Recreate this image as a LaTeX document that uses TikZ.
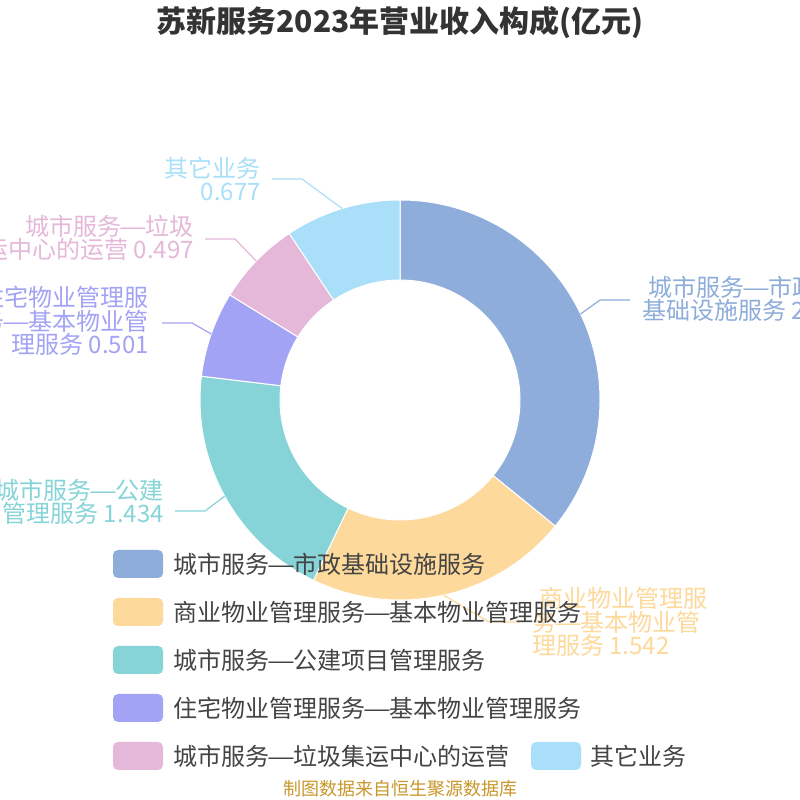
\documentclass[tikz,border=0pt]{standalone}
\usepackage{fontspec}
\setmainfont{Noto Sans CJK SC}
\definecolor{cBlue}{RGB}{142,173,218}
\definecolor{cYellow}{RGB}{253,217,155}
\definecolor{cTeal}{RGB}{134,212,216}
\definecolor{cPurple}{RGB}{163,163,245}
\definecolor{cPink}{RGB}{229,184,217}
\definecolor{cLBlue}{RGB}{169,223,248}
\definecolor{cTitle}{RGB}{51,51,51}
\definecolor{cLegend}{RGB}{68,68,68}
\definecolor{cFoot}{RGB}{201,151,43}
\newcommand\wdash{\makebox[1em][c]{\scalebox{1.3}[1]{—}}}
\newcommand\donutslice[3]{\fill[#3,draw=white,line width=1pt] (#1:200) arc[start angle=#1,end angle=#2,radius=200] -- (#2:120) arc[start angle=#2,end angle=#1,radius=120] -- cycle;}
\tikzset{
  lbl/.style={font=\fontsize{24}{23.5}\selectfont, inner sep=0pt},
  leader/.style={line width=1.2pt},
  legbox/.style={rounded corners=5pt, minimum width=50pt, minimum height=28pt, inner sep=0pt},
  legtext/.style={font=\fontsize{24}{24}\selectfont, text=cLegend, anchor=west, inner sep=0pt},
}
\begin{document}
\begin{tikzpicture}[x=1pt,y=1pt]
\useasboundingbox (0,0) rectangle (800,800);
\fill[white] (0,0) rectangle (800,800);
% title
\node[font=\fontsize{30}{30}\selectfont\bfseries, text=cTitle] (title) at (400,777) {苏新服务2023年营业收入构成(亿元)};
% donut
\begin{scope}[shift={(400,400)}]
\donutslice{90}{-39.08}{cBlue}
\donutslice{-39.08}{-115.64}{cYellow}
\donutslice{-115.64}{-186.83}{cTeal}
\donutslice{-186.83}{-211.70}{cPurple}
\donutslice{-211.70}{-236.38}{cPink}
\donutslice{-236.38}{-270}{cLBlue}
\coordinate (e1) at (25.46:200);
\coordinate (e2) at (-77.36:200);
\coordinate (e3) at (-151.24:200);
\coordinate (e4) at (-199.27:200);
\coordinate (e5) at (-224.04:200);
\coordinate (e6) at (-253.19:200);
\end{scope}
% labels
\node[lbl, text=cBlue, anchor=west, align=left] (l1) at (642,501) {\hspace*{6pt}城市服务\wdash 市政\\基础设施服务 2};
\node[lbl, text=cYellow, anchor=west, align=left] (l2) at (532,178) {\hspace*{7pt}商业物业管理服\\务\wdash 基本物业管\\理服务 1.542};
\node[lbl, text=cTeal, anchor=east, align=right] (l3) at (164,298) {城市服务\wdash 公建\\项目管理服务 1.434};
\node[lbl, text=cPurple, anchor=east, align=right] (l4) at (149,479) {住宅物业管理服\\务\wdash 基本物业管\\理服务 0.501};
\node[lbl, text=cPink, anchor=east, align=right] (l5) at (194,562) {城市服务\wdash 垃圾\\集运中心的运营 0.497};
\node[lbl, text=cLBlue, anchor=east, align=right] (l6) at (261,621) {其它业务\\0.677};
% leader lines
\coordinate (b1) at (600,500); \coordinate (h1) at (630,500);
\coordinate (b2) at (489,178); \coordinate (h2) at (520,178);
\coordinate (b3) at (205,289); \coordinate (h3) at (175,289);
\coordinate (b4) at (192,477); \coordinate (h4) at (162,477);
\coordinate (b5) at (235,561); \coordinate (h5) at (205,561);
\coordinate (b6) at (302,621); \coordinate (h6) at (272,621);
\draw[leader, cBlue] (e1) -- (b1) -- (h1);
\draw[leader, cYellow] (e2) -- (b2) -- (h2);
\draw[leader, cTeal] (e3) -- (b3) -- (h3);
\draw[leader, cPurple] (e4) -- (b4) -- (h4);
\draw[leader, cPink] (e5) -- (b5) -- (h5);
\draw[leader, cLBlue] (e6) -- (b6) -- (h6);
% legend
\node[legbox, fill=cBlue] (k1) at (138,236) {};
\node[legtext] (t1) at (173,236) {城市服务\wdash 市政基础设施服务};
\node[legbox, fill=cYellow] (k2) at (138,188) {};
\node[legtext] (t2) at (173,188) {商业物业管理服务\wdash 基本物业管理服务};
\node[legbox, fill=cTeal] (k3) at (138,140) {};
\node[legtext] (t3) at (173,140) {城市服务\wdash 公建项目管理服务};
\node[legbox, fill=cPurple] (k4) at (138,92) {};
\node[legtext] (t4) at (173,92) {住宅物业管理服务\wdash 基本物业管理服务};
\node[legbox, fill=cPink] (k5) at (138,44) {};
\node[legtext] (t5) at (173,44) {城市服务\wdash 垃圾集运中心的运营};
\node[legbox, fill=cLBlue] (k6) at (556,44) {};
\node[legtext] (t6) at (590,44) {其它业务};
% footer
\node[font=\fontsize{18}{18}\selectfont, text=cFoot] (foot) at (400,11) {制图数据来自恒生聚源数据库};
\end{tikzpicture}
\end{document}
